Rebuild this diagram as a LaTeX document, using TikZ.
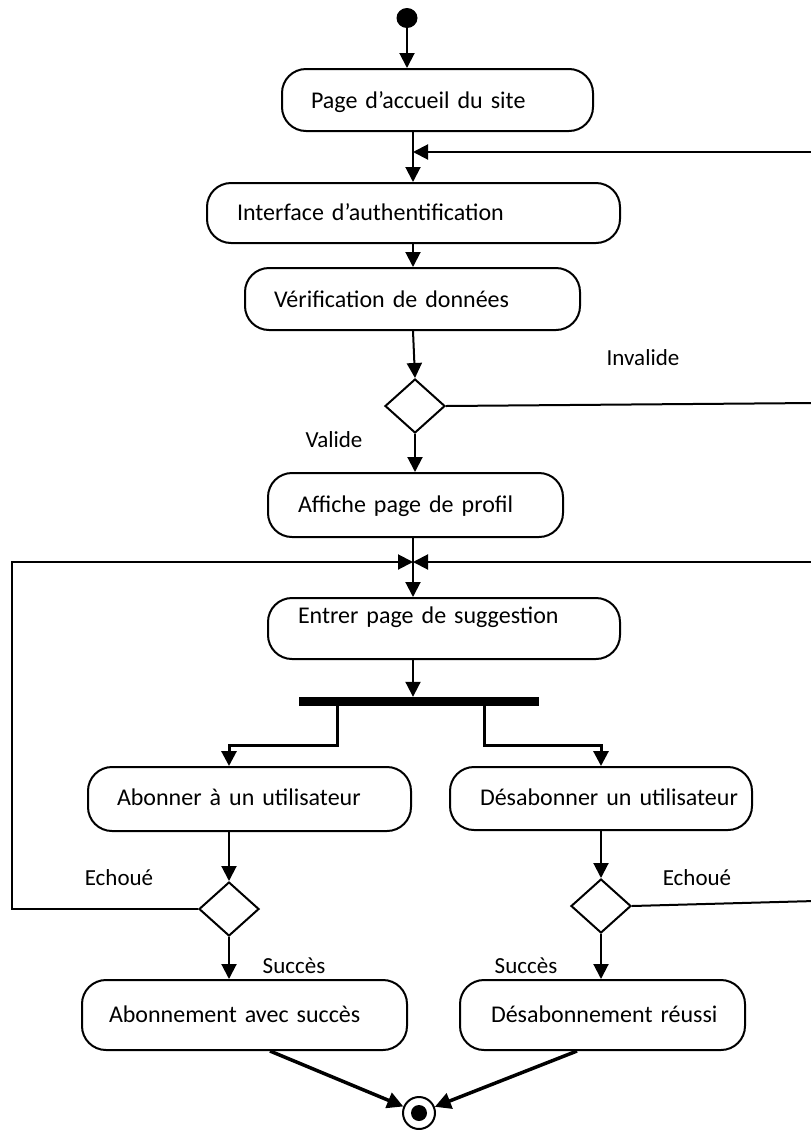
\documentclass[tikz,border=0pt]{standalone}
\usepackage{fontspec}
\setmainfont{Carlito}[WordSpace=0.85]
\usetikzlibrary{arrows.meta,shapes.geometric}

\begin{document}
\begin{tikzpicture}[x=1pt,y=-1pt,
  act/.style={draw, line width=2pt, rounded corners=24pt, inner xsep=0pt, inner ysep=0pt,
              font=\fontsize{24}{28}\selectfont, align=left},
  up/.style={text height=17pt, text depth=#1},
  dec/.style={draw, diamond, line width=2pt, inner sep=0pt, minimum width=60pt, minimum height=54pt},
  lbl/.style={font=\fontsize{23}{27}\selectfont, inner sep=0pt},
  flow/.style={line width=2pt, -{Triangle[length=15pt,width=15pt]}},
  plain/.style={line width=2pt},
  fork/.style={line width=3pt, -{Triangle[length=15pt,width=15pt]}},
  finish/.style={line width=3.5pt, -{Triangle[length=16pt,width=16pt]}},
]
% canvas
\fill[white] (0,0) rectangle (811,1130);
\useasboundingbox (0,0) rectangle (811,1130);

% reference columns
\coordinate (sp) at (413,0);
\coordinate (dl) at (229,0);
\coordinate (dr) at (601,0);
\coordinate (fl) at (337,0);
\coordinate (fr) at (484,0);

% start
\node[fill, ellipse, minimum width=21pt, minimum height=20pt, inner sep=0pt] (start) at (407,18) {};

% activities
\node[act, minimum width=311pt, minimum height=62pt, text width=253pt, up=-2pt] (n1) at (437.5,100) {\mbox{Page d’accueil du site}};
\node[act, minimum width=413pt, minimum height=60pt, text width=353pt, up=2pt] (n2) at (413.5,213) {\mbox{Interface d’authentification}};
\node[act, minimum width=335pt, minimum height=62pt, text width=277pt, up=1pt] (n3) at (412.5,299) {\mbox{Vérification de données}};
\node[dec] (d1) at (415,406) {};
\node[act, minimum width=295pt, minimum height=64pt, text width=235pt, up=3pt] (n4) at (415.5,505) {\mbox{Affiche page de profil}};
\coordinate (m) at (413,562);
\node[act, minimum width=352pt, minimum height=61pt, text width=292pt, up=28pt] (n5) at (444,628.5) {\mbox{Entrer page de suggestion}};
\node[fill, minimum width=240pt, minimum height=9pt, inner sep=0pt] (bar) at (419,701.5) {};
\node[act, minimum width=323pt, minimum height=64pt, text width=265pt, up=4pt] (n6) at (249.5,799) {\mbox{Abonner à un utilisateur}};
\node[act, minimum width=302pt, minimum height=63pt, text width=242pt, up=4pt] (n7) at (601,798.5) {\mbox{Désabonner un utilisateur}};
\node[dec] (d2) at (229,909) {};
\node[dec] (d3) at (601,906) {};
\node[act, minimum width=325pt, minimum height=70pt, text width=271pt, up=2pt] (n8) at (244.5,1015) {\mbox{Abonnement avec succès}};
\node[act, minimum width=285pt, minimum height=70pt, text width=223pt, up=2pt] (n9) at (602.5,1015) {\mbox{Désabonnement réussi}};

% final state
\node[draw, circle, line width=2pt, minimum size=32pt, inner sep=0pt] (end) at (419,1113) {};
\node[fill, circle, minimum size=16pt, inner sep=0pt] (endin) at (end.center) {};

% guard labels
\node[lbl] (linv) at (643,358) {Invalide};
\node[lbl] (lval) at (334,440) {Valide};
\node[lbl] (le1) at (119,878) {Echoué};
\node[lbl] (le2) at (697,878) {Echoué};
\node[lbl] (ls1) at (294,966) {Succès};
\node[lbl] (ls2) at (526,966) {Succès};

% loose ends leaving the page
\coordinate (r1) at (815,152);
\coordinate (r2) at (815,403);
\coordinate (r3) at (815,562);
\coordinate (r4) at (815,901);
\coordinate (j1) at (413,152);
\coordinate (lw) at (12,0);

% main flow
\draw[flow] (start) -- (start |- n1.north);
\draw[flow] (n1.south -| sp) -- (n2.north -| sp);
\draw[flow] (r1) -- (j1);
\draw[flow] (n2.south -| sp) -- (n3.north -| sp);
\draw[flow] (n3.south -| sp) -- (d1.north);
\draw[plain] (d1.east) -- (r2);
\draw[flow] (d1.south) -- (n4.north -| d1.south);
\draw[plain] (n4.south -| sp) -- (m);
\draw[flow] (m) -- (n5.north -| sp);
\draw[flow] (n5.south -| sp) -- (bar.north -| sp);

% fork
\draw[fork] (bar.south -| fl) -- ++(0,39.5) -| (n6.north -| dl);
\draw[fork] (bar.south -| fr) -- ++(0,39.5) -| (n7.north -| dr);

% branches
\draw[flow] (n6.south -| dl) -- (d2.north);
\draw[flow] (n7.south -| dr) -- (d3.north);
\draw[flow] (d2.south) -- (n8.north -| dl);
\draw[flow] (d3.south) -- (n9.north -| dr);

% retry loops back to the suggestion page
\draw[flow] (d2.west) -- (d2.west -| lw) |- (m);
\draw[plain] (d3.east) -- (r4);
\draw[flow] (r3) -- (m);

% join at the final state
\draw[finish] (n8.south -| 270,0) -- (end);
\draw[finish] (n9.south -| 577,0) -- (end);
\end{tikzpicture}
\end{document}
